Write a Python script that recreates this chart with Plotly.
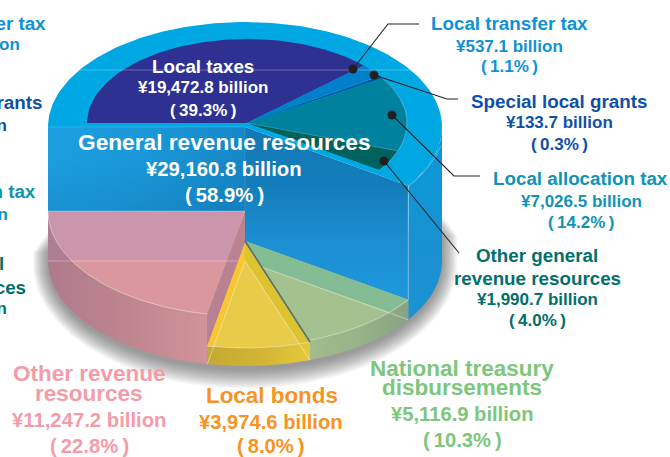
import math
import plotly.graph_objects as go

# ---------- data ----------
general_names = ["Local taxes", "Local transfer tax", "Special local grants", "Local allocation tax", "Other general revenue resources"]
general_values = [19472.8, 537.1, 133.7, 7026.5, 1990.7]
general_amounts = ["¥19,472.8 billion", "¥537.1 billion", "¥133.7 billion", "¥7,026.5 billion", "¥1,990.7 billion"]
general_shares = ["(39.3%)", "(1.1%)", "(0.3%)", "(14.2%)", "(4.0%)"]
general_total = ["General revenue resources", "¥29,160.8 billion", "(58.9%)"]
other_names = ["Other revenue resources", "Local bonds", "National treasury disbursements"]
other_values = [11247.2, 3974.6, 5116.9]
other_amounts = ["¥11,247.2 billion", "¥3,974.6 billion", "¥5,116.9 billion"]
other_shares = ["(22.8%)", "(8.0%)", "(10.3%)"]

# ---------- geometry helpers ----------
CX, RX, RY = 245, 197, 105
TOP_Y, MID_Y, BASE_Y = 127, 211, 261
INNER = dict(cx=247, cy=123, rx=160, ry=84)
SPLIT = 214           # degrees of the pie given to the general revenue tier


def sweeps(values, total_deg, minimum):
    raw = [v / sum(values) * total_deg for v in values]
    out = [max(r, minimum.get(i, 0)) for i, r in enumerate(raw)]
    out[0] -= sum(out) - total_deg
    return out


def arc(cx, cy, rx, ry, t0, t1, n=90):
    pts = []
    for i in range(n + 1):
        t = math.radians(t0 + (t1 - t0) * i / n)
        pts.append((cx + rx * math.cos(t), cy - ry * math.sin(t)))
    return pts


fig = go.Figure()


def poly(pts, color=None, grad=None):
    xs = [p[0] for p in pts] + [pts[0][0]]
    ys = [p[1] for p in pts] + [pts[0][1]]
    kw = dict(x=xs, y=ys, mode="lines", fill="toself", line=dict(width=0, color="rgba(0,0,0,0)"),
              hoverinfo="skip", showlegend=False)
    if grad:
        kw["fillgradient"] = dict(type=grad[0], colorscale=[[i / (len(grad[1]) - 1), c] for i, c in enumerate(grad[1])])
    else:
        kw["fillcolor"] = color
    fig.add_trace(go.Scatter(**kw))


def line(pts, color="rgba(255,255,255,0.35)", width=1):
    fig.add_trace(go.Scatter(x=[p[0] for p in pts], y=[p[1] for p in pts], mode="lines",
                             line=dict(color=color, width=width), hoverinfo="skip", showlegend=False))


def strip(a_top, a_bot, edge_arc):
    """Band between two parallel slice edges on the top face, cut by the rim arc."""
    end = edge_arc[0]
    dx, dy = end[0] - a_top[0], end[1] - a_top[1]
    kept = []
    for p in edge_arc:
        line_y = a_bot[1] + (p[0] - a_bot[0]) * dy / dx
        if p[1] <= line_y:
            kept.append(p)
        else:
            break
    return [a_top] + kept + [a_bot]


upper = sweeps(general_values, SPLIT, {1: 9, 2: 2})
lower = sweeps(other_values, 360 - SPLIT, {1: 30.3})
t_edge = 180 - SPLIT            # right-hand end of the upper tier (= -34)
t_pink = 180 + lower[0]
t_yellow = t_pink + lower[1]
t_green = t_yellow + lower[2]

# ---------- soft shadow ----------
for k in range(0, 18):
    body = [(CX - RX - k * 0.9, 232 + k * 1.2)] + arc(CX, BASE_Y + 2, RX + k * 0.9, RY + 2 + k * 1.1, 180, 360) + [(CX + RX + k * 0.9, 215 + k * 1.2)]
    poly(body, "rgba(50,50,60,0.036)")

# ---------- upper tier walls ----------
poly([(CX - RX, TOP_Y), (CX, TOP_Y), (CX, MID_Y), (CX - RX, MID_Y)], grad=("horizontal", ["#1B9EDF", "#1A97D8", "#1587C6"]))
poly([(CX - RX, TOP_Y + 30), (CX, TOP_Y + 30), (CX, MID_Y), (CX - RX, MID_Y)],
     grad=("vertical", ["rgba(10,70,120,0.14)", "rgba(10,70,120,0)"]))
ex, ey = arc(CX, TOP_Y, RX, RY, t_edge, t_edge, 1)[0]
bx, by = arc(CX, 241, RX, RY, t_green, t_green, 1)[0]
poly([(CX, TOP_Y), (ex, ey), (bx, by), (CX, 241)], grad=("vertical", ["#1E98DC", "#1B8FD2", "#137DBB", "#1179B5"]))
poly(arc(CX, TOP_Y, RX, RY, t_edge, 0, 30) + arc(CX, BASE_Y, RX, RY, 0, t_edge, 30),
     grad=("vertical", ["#1D93D5", "#1A90D0", "#0F96D4", "#0B97D8"]))
line([(ex, ey), (bx, by)], "rgba(255,255,255,0.35)")
line([(CX, TOP_Y), (CX, MID_Y)], "rgba(255,255,255,0.12)")

# ---------- upper tier top face ----------
poly([(CX, TOP_Y)] + arc(CX, TOP_Y, RX, RY, 180, t_edge, 140), "#00A8E3")
inner_colors = ["#2E3192", "#0080CB", "#0055A6", "#00829F", "#00625F"]
t = 180
inner_edges = []
for sweep, col in zip(upper, inner_colors):
    poly([(INNER["cx"], INNER["cy"])] + arc(INNER["cx"], INNER["cy"], INNER["rx"], INNER["ry"], t, t - sweep, 60), col)
    inner_edges.append((t, t - sweep))
    t -= sweep
line(arc(INNER["cx"], INNER["cy"], INNER["rx"], INNER["ry"], inner_edges[3][0], inner_edges[4][1], 40), "rgba(255,255,255,0.25)")
line([(INNER["cx"], INNER["cy"]), arc(INNER["cx"], INNER["cy"], INNER["rx"], INNER["ry"], inner_edges[3][1], inner_edges[3][1], 1)[0]], "rgba(255,255,255,0.18)")
half = RX * math.sqrt(1 - ((TOP_Y - 70) / RY) ** 2)
line([(CX - half, 70), (CX + half, 70)], "rgba(255,255,255,0.28)")
line([(CX - RX, TOP_Y), (CX, TOP_Y)], "rgba(255,255,255,0.15)")

# ---------- other revenue (pink) ----------
pink_rim = arc(CX, MID_Y, RX, RY, 180, t_pink, 80)
px, py = pink_rim[-1]
poly(arc(CX, BASE_Y, RX, RY, 180, t_pink, 80)[::-1] + [(CX - RX, BASE_Y), (CX - RX, MID_Y)] + pink_rim,
     grad=("horizontal", ["#AE7A8C", "#BF858F", "#D2939A"]))
poly([(CX, MID_Y), (CX, BASE_Y), (px, py + 50), (px, py)], grad=("vertical", ["#B57F95", "#BD848F"]))
poly([(CX, MID_Y)] + pink_rim, "#DA989E")
band_rim = [p for p in pink_rim if p[1] <= BASE_Y]
poly([(CX, MID_Y)] + band_rim + [(CX - (BASE_Y - MID_Y) * (CX - px) / (py - MID_Y), BASE_Y)], "#CB95AB")
poly([(CX - RX, MID_Y)] + band_rim + [(CX - RX, BASE_Y)], "#AE7F93")
line([(CX - RX, BASE_Y), (CX, BASE_Y)], "rgba(255,255,255,0.3)")
line(pink_rim, "rgba(255,255,255,0.4)")
line([(CX - RX, MID_Y), (CX, MID_Y)], "rgba(255,255,255,0.25)")

# ---------- national treasury (green) ----------
G_Y = 241
green_rim = arc(CX, G_Y, RX, RY, t_green, t_yellow, 60)
poly(arc(CX, BASE_Y, RX, RY, t_yellow, t_green, 60) + green_rim, grad=("horizontal", ["#A0BD8C", "#97B388", "#88A383"]))
poly([(CX, G_Y)] + green_rim, "#A3C28F")
poly(strip((CX, G_Y), (CX, BASE_Y), green_rim), "#84BC94")
line([(CX, BASE_Y), (green_rim[0][0], green_rim[0][1] + 20)], "rgba(255,255,255,0.4)")
line(green_rim, "rgba(255,255,255,0.4)")

# ---------- local bonds (yellow) ----------
Y_Y = 243
yel_rim = arc(CX, Y_Y, RX, RY, t_pink, t_yellow, 50)
poly(arc(CX, BASE_Y, RX, RY, t_yellow, t_pink, 50) + yel_rim, grad=("horizontal", ["#C4AA33", "#D0B435", "#E6C93A"]))
poly([(CX, Y_Y)] + yel_rim, "#E8CB48")
poly(strip((CX, Y_Y), (CX, BASE_Y), yel_rim), "#F6C733")
poly(strip((CX, Y_Y), (CX, BASE_Y), yel_rim[::-1]), "#DBC430")
line([(CX, BASE_Y), (yel_rim[0][0], yel_rim[0][1] + 18)], "rgba(255,255,255,0.4)")
line([(CX, BASE_Y), (yel_rim[-1][0], yel_rim[-1][1] + 18)], "rgba(255,255,255,0.4)")
line(yel_rim, "rgba(255,255,255,0.4)")
line([(CX, G_Y), (yel_rim[-1][0], yel_rim[-1][1])], "#5E6F6B", 1.6)

# ---------- leader lines ----------
leaders = [
    [(353, 69), (388, 24), (419, 24)],
    [(374, 75), (447, 99), (458, 99)],
    [(392, 115), (454, 176), (480, 176)],
    [(384, 161), (459, 253)],
]
for pts in leaders:
    line(pts, "#231F20", 1.1)
    fig.add_trace(go.Scatter(x=[pts[0][0]], y=[pts[0][1]], mode="markers",
                             marker=dict(size=9, color="#231F20"), hoverinfo="skip", showlegend=False))

# ---------- text ----------
annotations = []


def label(text, x, y, size, color, anchor="center"):
    annotations.append(dict(text=text, x=x, y=y, xref="x", yref="y", xanchor=anchor, yanchor="middle",
                            showarrow=False, font=dict(family="Liberation Sans", size=size, color=color, weight="bold")))


def pct(text):
    # the reference sets its brackets wide, away from the digits
    return "(\u2009" + text[1:-1] + "\u2009)"


C_TRANSFER, C_GRANTS, C_ALLOC, C_OTHER = "#0E91D6", "#0F4FA8", "#0F94B5", "#00706C"
C_PINK, C_ORANGE, C_GREEN = "#F59BA8", "#F7931E", "#7DC67C"

label(general_names[0], 203, 66, 18.8, "white")
label(general_amounts[0], 203, 87, 17, "white")
label(pct(general_shares[0]), 203, 110, 17, "white")
label(general_total[0], 224, 142, 22.7, "white")
label(general_total[1], 224, 169, 20.3, "white")
label(pct(general_total[2]), 224, 195, 20.3, "white")

label(general_names[1], 509, 23, 18.8, C_TRANSFER)
label(general_amounts[1], 509, 46, 17, C_TRANSFER)
label(pct(general_shares[1]), 509, 66, 17, C_TRANSFER)
label(general_names[2], 559, 101, 18.8, C_GRANTS)
label(general_amounts[2], 559, 122, 17, C_GRANTS)
label(pct(general_shares[2]), 559, 144, 17, C_GRANTS)
label(general_names[3], 580, 178, 18.8, C_ALLOC)
label(general_amounts[3], 581, 201, 17, C_ALLOC)
label(pct(general_shares[3]), 581, 222, 17, C_ALLOC)
label("Other general", 537, 255, 18.8, C_OTHER)
label("revenue resources", 537, 278, 18.8, C_OTHER)
label(general_amounts[4], 537, 299, 17, C_OTHER)
label(pct(general_shares[4]), 537, 320, 17, C_OTHER)

label("Other revenue", 89, 373, 22.5, C_PINK)
label("resources", 89, 393, 22.5, C_PINK)
label(other_amounts[0], 89, 420, 20.3, C_PINK)
label(pct(other_shares[0]), 89, 446, 20.3, C_PINK)
label(other_names[1], 272, 395, 22.4, C_ORANGE)
label(other_amounts[1], 271, 422, 20.2, C_ORANGE)
label(pct(other_shares[1]), 271, 446, 20.2, C_ORANGE)
label("National treasury", 462, 368, 22.5, C_GREEN)
label("disbursements", 462, 387, 22.5, C_GREEN)
label(other_amounts[2], 462, 414, 20.2, C_GREEN)
label(pct(other_shares[2]), 462, 440, 20.2, C_GREEN)

# labels cut off by the left edge of the picture
label(general_names[1], 48, 23, 18.8, C_TRANSFER, "right")
label(general_amounts[1], 22, 44, 17, C_TRANSFER, "right")
label(general_names[2], 44, 102, 18.8, C_GRANTS, "right")
label(general_amounts[2], 9, 125, 17, C_GRANTS, "right")
label(general_names[3], 38, 191, 18.8, C_ALLOC, "right")
label(general_amounts[3], 10, 214, 17, C_ALLOC, "right")
label("Other general", 6, 263, 18.8, C_OTHER, "right")
label("revenue resources", 28, 287, 18.8, C_OTHER, "right")
label(general_amounts[4], 9, 308, 17, C_OTHER, "right")

fig.update_layout(
    width=670, height=457, margin=dict(l=0, r=0, t=0, b=0),
    paper_bgcolor="white", plot_bgcolor="white", showlegend=False,
    xaxis=dict(range=[0, 670], visible=False, fixedrange=True),
    yaxis=dict(range=[457, 0], visible=False, fixedrange=True),
    annotations=annotations,
    shapes=[dict(type="path", path="M 408 187 Q 430 170 441 146", line=dict(color="rgba(255,255,255,0.3)", width=1))],
)
fig.write_html("out.html", config={"displayModeBar": False},
               post_script="document.body.style.margin='0';document.body.style.overflow='hidden';")
